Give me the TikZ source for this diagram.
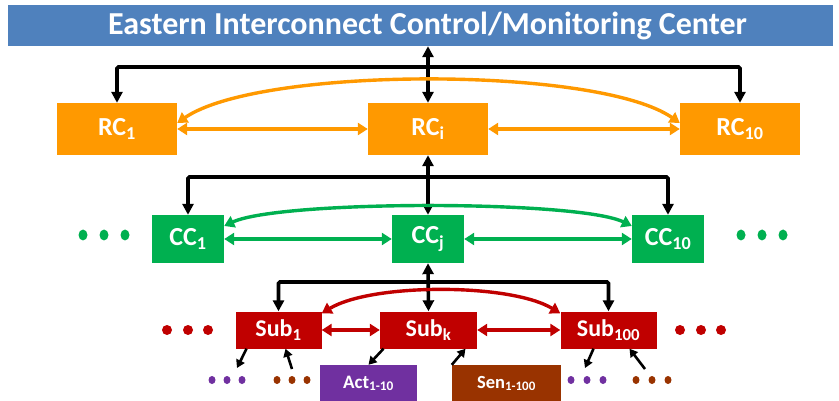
\documentclass[tikz,border=0pt]{standalone}
\usepackage{fontspec}
\setmainfont{Carlito}
\usetikzlibrary{arrows.meta,shapes.geometric}
\definecolor{tblue}{HTML}{4F81BD}
\definecolor{rcorange}{HTML}{FF9900}
\definecolor{ccgreen}{HTML}{00B050}
\definecolor{subred}{HTML}{C00000}
\definecolor{actpurple}{HTML}{7030A0}
\definecolor{senbrown}{HTML}{993300}
\tikzset{
  box/.style={rectangle, inner sep=0pt, text=white, font=\bfseries},
  blk/.style={draw=black, line width=3.6pt, rounded corners=1.5pt, {Triangle[length=11pt,width=11pt]}-{Triangle[length=11pt,width=11pt]}},
  link/.style={line width=3.4pt, {Triangle[length=10pt,width=12pt]}-{Triangle[length=10pt,width=12pt]}},
  sm/.style={draw=black, line width=2.6pt, -{Triangle[length=8pt,width=9pt]}},
  dotmark/.style={ellipse, inner sep=0pt, minimum width=9pt, minimum height=11pt},
}
\begin{document}
\begin{tikzpicture}[x=1pt,y=-1pt]
\useasboundingbox[fill=white] (0,0) rectangle (839,401);
% title
\node[box, fill=tblue, minimum width=825pt, minimum height=41pt, font=\bfseries\fontsize{32}{36}\selectfont] (title) at (420.5,25.5) {\hspace{14pt}Eastern Interconnect Control/Monitoring Center};
% RC row
\node[box, fill=rcorange, minimum width=120pt, minimum height=52pt, font=\bfseries\fontsize{26}{30}\selectfont] (rc1) at (117,129) {RC\textsubscript{1}};
\node[box, fill=rcorange, minimum width=120pt, minimum height=52pt, font=\bfseries\fontsize{26}{30}\selectfont] (rci) at (428,129) {RC\textsubscript{i}};
\node[box, fill=rcorange, minimum width=120pt, minimum height=52pt, font=\bfseries\fontsize{26}{30}\selectfont] (rc10) at (740,129) {RC\textsubscript{10}};
% CC row
\node[box, fill=ccgreen, minimum width=72pt, minimum height=48pt, font=\bfseries\fontsize{26}{30}\selectfont] (cc1) at (188,239) {CC\textsubscript{1}};
\node[box, fill=ccgreen, minimum width=72pt, minimum height=48pt, font=\bfseries\fontsize{26}{30}\selectfont] (ccj) at (428,239) {CC\textsubscript{j}};
\node[box, fill=ccgreen, minimum width=72pt, minimum height=48pt, font=\bfseries\fontsize{26}{30}\selectfont] (cc10) at (668,239) {CC\textsubscript{10}};
% Sub row
\node[box, fill=subred, minimum width=86pt, minimum height=37pt, font=\bfseries\fontsize{24}{28}\selectfont] (sub1) at (278.5,330) {Sub\textsubscript{1}};
\node[box, fill=subred, minimum width=97pt, minimum height=37pt, font=\bfseries\fontsize{24}{28}\selectfont] (subk) at (428.5,330) {Sub\textsubscript{k}};
\node[box, fill=subred, minimum width=96pt, minimum height=37pt, font=\bfseries\fontsize{24}{28}\selectfont] (sub100) at (608.5,330) {Sub\textsubscript{100}};
% Act / Sen
\node[box, fill=actpurple, minimum width=97pt, minimum height=37pt, font=\bfseries\fontsize{19}{22}\selectfont] (act) at (368.5,383.5) {Act\textsubscript{1-10}};
\node[box, fill=senbrown, minimum width=109pt, minimum height=37pt, font=\bfseries\fontsize{18.5}{22}\selectfont] (sen) at (506.5,383.5) {Sen\textsubscript{1-100}};

% black hierarchy links
\draw[blk] (title.south -| rci.north) -- (rci.north);
\coordinate (busrc) at (428,67);
\draw[blk] (rc1.north) |- (busrc) -| (rc10.north);
\draw[blk] (rci.south) -- (ccj.north);
\coordinate (buscc) at (428,177);
\draw[blk] (cc1.north) |- (buscc) -| (cc10.north);
\draw[blk] (ccj.south) -- (subk.north);
\coordinate (bussub) at (428,282);
\draw[blk] (sub1.north) |- (bussub) -| (sub100.north);

% orange links
\draw[link, rcorange] (rc1.east) -- (rci.west);
\draw[link, rcorange] (rci.east) -- (rc10.west);
\draw[link, rcorange] ([yshift=6pt]rc1.east) .. controls (260,66) and (598,66) .. ([yshift=6pt]rc10.west);
% green links
\draw[link, ccgreen] (cc1.east) -- (ccj.west);
\draw[link, ccgreen] (ccj.east) -- (cc10.west);
\draw[link, ccgreen] ([yshift=13pt]cc1.east) .. controls (280,200) and (578,200) .. ([yshift=13pt]cc10.west);
% red links
\draw[link, subred] (sub1.east) -- (subk.west);
\draw[link, subred] (subk.east) -- (sub100.west);
\draw[link, subred] ([yshift=-2pt]sub1.north east) .. controls (372,283) and (510,283) .. ([yshift=-2pt]sub100.north west);

% dots
\foreach \x in {83,104,125} \node[dotmark, fill=ccgreen] at (\x,235) {};
\foreach \x in {741,762,783} \node[dotmark, fill=ccgreen] at (\x,235) {};
\foreach \x in {167,188,208} \node[dotmark, fill=subred, minimum width=10pt, minimum height=10pt] at (\x,330) {};
\foreach \x in {680,701,721} \node[dotmark, fill=subred, minimum width=10pt, minimum height=10pt] at (\x,330) {};
\foreach \x in {212,227,242} \node[dotmark, fill=actpurple, minimum width=7pt, minimum height=8pt] at (\x,380) {};
\foreach \x in {277,292,307} \node[dotmark, fill=senbrown, minimum width=7pt, minimum height=8pt] at (\x,380) {};
\foreach \x in {571,587,603} \node[dotmark, fill=actpurple, minimum width=7pt, minimum height=8pt] at (\x,380) {};
\foreach \x in {636,652,668} \node[dotmark, fill=senbrown, minimum width=7pt, minimum height=8pt] at (\x,380) {};

% small arrows
\coordinate (a1e) at (237,368);
\coordinate (a2s) at (292,369);
\coordinate (a5e) at (585,368);
\coordinate (a6s) at (645,369);
\draw[sm] ([xshift=-32pt]sub1.south) -- (a1e);
\draw[sm] (a2s) -- ([xshift=7pt]sub1.south);
\draw[sm] ([xshift=-45pt]subk.south) -- (act.north);
\draw[sm] (sen.north west) -- ([xshift=37pt]subk.south);
\draw[sm] ([xshift=-15pt]sub100.south) -- (a5e);
\draw[sm] (a6s) -- ([xshift=21pt]sub100.south);
\end{tikzpicture}
\end{document}
